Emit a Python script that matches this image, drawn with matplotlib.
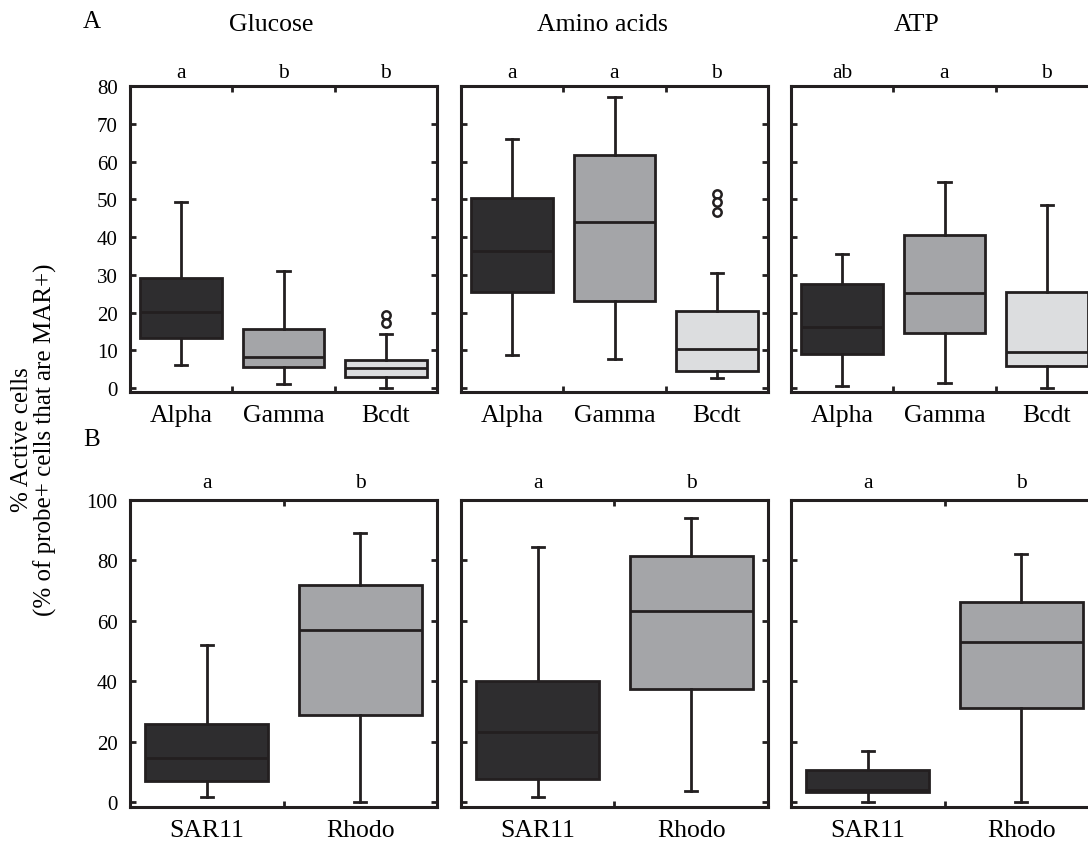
import matplotlib.pyplot as plt

plt.rcParams["font.family"] = ["Liberation Serif", "DejaVu Serif"]

EDGE = "#231f20"
FILLS = ["#2e2d2f", "#a4a5a8", "#dcdddf"]

# panel A: three substrates x three groups
A_TITLES = ["Glucose", "Amino acids", "ATP"]
A_GROUPS = ["Alpha", "Gamma", "Bcdt"]
A_LETTERS = [["a", "b", "b"], ["a", "a", "b"], ["ab", "a", "b"]]
A_WHISLO = [[6.2, 1.2, 0.1], [8.7, 7.7, 2.7], [0.6, 1.4, 0.0]]
A_Q1 = [[13.3, 5.5, 2.9], [25.6, 23.0, 4.6], [9.0, 14.6, 6.0]]
A_MED = [[20.1, 8.2, 5.4], [36.3, 44.0, 10.4], [16.2, 25.3, 9.7]]
A_Q3 = [[29.2, 15.6, 7.6], [50.3, 61.8, 20.5], [27.7, 40.5, 25.5]]
A_WHISHI = [[49.2, 31.1, 14.4], [66.0, 77.0, 30.4], [35.4, 54.5, 48.5]]
A_FLIERS = [[[], [], [19.3, 17.3]], [[], [], [51.4, 49.2, 46.6]], [[], [], []]]

# panel B: SAR11 vs Rhodo
B_GROUPS = ["SAR11", "Rhodo"]
B_LETTERS = [["a", "b"], ["a", "b"], ["a", "b"]]
B_WHISLO = [[1.9, 0.0], [1.9, 3.8], [0.3, 0.3]]
B_Q1 = [[7.0, 29.0], [7.9, 37.6], [3.3, 31.2]]
B_MED = [[14.7, 57.0], [23.3, 63.2], [4.0, 52.9]]
B_Q3 = [[25.8, 72.0], [40.3, 81.5], [10.7, 66.3]]
B_WHISHI = [[51.9, 89.1], [84.3, 94.2], [17.1, 82.2]]

FIG_W, FIG_H = 1088, 845
LEFTS = [130, 461, 791]
PANEL_W = 307


def px_axes(fig, left, top, bottom):
    return fig.add_axes([left / FIG_W, 1 - bottom / FIG_H,
                         PANEL_W / FIG_W, (bottom - top) / FIG_H])


def draw_panel(ax, groups, letters, whislo, q1, med, q3, whishi, fliers,
               capw, ylim, yticks, show_ylabels, letter_off):
    n = len(groups)
    stats = []
    for i in range(n):
        stats.append({"whislo": whislo[i], "q1": q1[i], "med": med[i],
                      "q3": q3[i], "whishi": whishi[i], "fliers": fliers[i]})
    pos = list(range(1, n + 1))
    bp = ax.bxp(stats, positions=pos, widths=0.8, patch_artist=True,
                capwidths=capw,
                boxprops=dict(edgecolor=EDGE, linewidth=2.0),
                medianprops=dict(color=EDGE, linewidth=2.0),
                whiskerprops=dict(color=EDGE, linewidth=2.0),
                capprops=dict(color=EDGE, linewidth=2.0),
                flierprops=dict(marker="o", markersize=6, markeredgewidth=1.8,
                                markeredgecolor=EDGE, markerfacecolor="white"))
    for patch, c in zip(bp["boxes"], FILLS):
        patch.set_facecolor(c)
    ax.set_xlim(0.5, n + 0.5)
    ax.set_ylim(*ylim)
    ax.set_xticks(pos)
    ax.set_xticklabels(groups, fontsize=18.5)
    ax.tick_params(axis="x", which="major", length=0, pad=9)
    ax.set_xticks([p + 0.5 for p in pos[:-1]], minor=True)
    ax.tick_params(axis="x", which="minor", direction="in", length=4,
                   width=2, top=True, bottom=True, color=EDGE)
    ax.set_yticks(yticks)
    ax.tick_params(axis="y", direction="in", length=4, width=2,
                   left=True, right=True, color=EDGE, labelsize=15, pad=9,
                   labelleft=show_ylabels)
    for sp in ax.spines.values():
        sp.set_linewidth(2.2)
        sp.set_color(EDGE)
    for p, lab in zip(pos, letters):
        ax.annotate(lab, (p, 1), xycoords=("data", "axes fraction"),
                    xytext=(0, letter_off), textcoords="offset points",
                    ha="center", va="bottom", fontsize=15.5)


fig = plt.figure(figsize=(FIG_W / 100, FIG_H / 100), dpi=100)

title_x = [0.46, 0.46, 0.41]
for k in range(3):
    ax = px_axes(fig, LEFTS[k], 87, 393)
    draw_panel(ax, A_GROUPS, A_LETTERS[k], A_WHISLO[k], A_Q1[k], A_MED[k],
               A_Q3[k], A_WHISHI[k], A_FLIERS[k], 0.12, (-1, 80),
               range(0, 81, 10), k == 0, 3)
    ax.text(title_x[k], 1.203, A_TITLES[k], transform=ax.transAxes,
            ha="center", va="center", fontsize=18.5)

for k in range(3):
    ax = px_axes(fig, LEFTS[k], 501, 808)
    draw_panel(ax, B_GROUPS, B_LETTERS[k], B_WHISLO[k], B_Q1[k], B_MED[k],
               B_Q3[k], B_WHISHI[k], [[], []], 0.08, (-1.5, 100),
               range(0, 101, 20), k == 0, 6)

fig.text(83 / FIG_W, 1 - 22 / FIG_H, "A", fontsize=18, ha="left", va="center")
fig.text(83 / FIG_W, 1 - 440 / FIG_H, "B", fontsize=18, ha="left", va="center")
fig.text(34 / FIG_W, 1 - 440 / FIG_H,
         "% Active cells\n(% of probe+ cells that are MAR+)",
         rotation=90, ha="center", va="center", fontsize=18,
         multialignment="center", linespacing=1.0)

fig.savefig("out.png", dpi=100)
